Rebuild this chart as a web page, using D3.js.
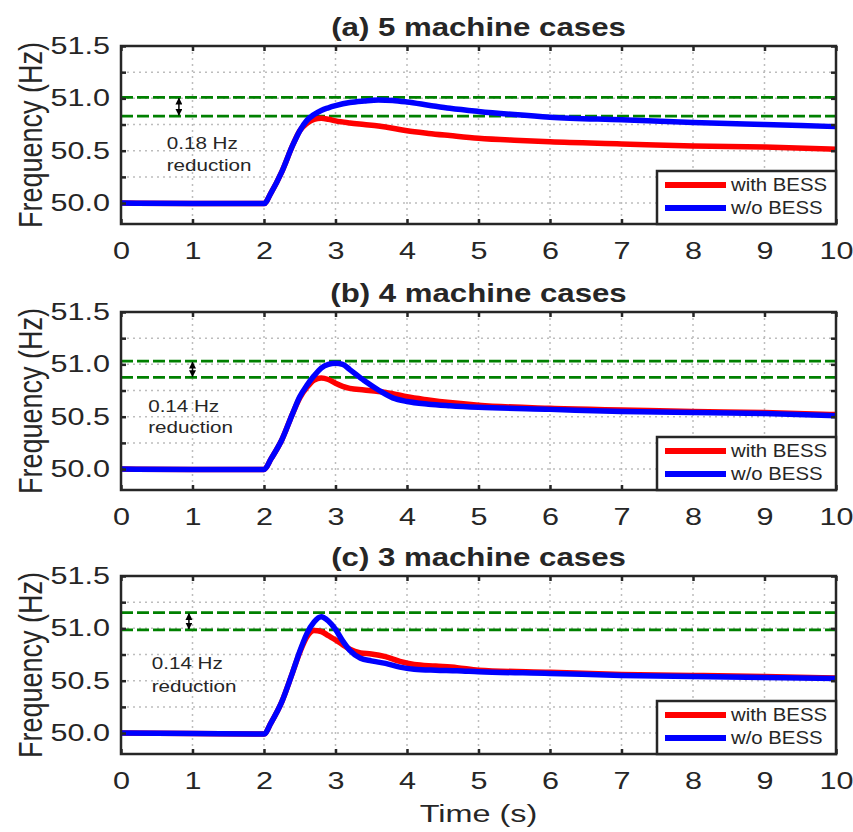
<!DOCTYPE html>
<html>
<head>
<meta charset="utf-8">
<script src="https://cdn.jsdelivr.net/npm/d3@7"></script>
<style>
  body { margin: 0; background: #fff; }
  text { font-family: "Liberation Sans", Arial, sans-serif; fill: #262626; }
</style>
</head>
<body>
<div id="chart"></div>
<script>
var titles = ['(a) 5 machine cases', '(b) 4 machine cases', '(c) 3 machine cases'];
var seriesNames = ['with BESS', 'w/o BESS'];
var xTicks = [0, 1, 2, 3, 4, 5, 6, 7, 8, 9, 10];
var yTicks = [50, 50.25, 50.5, 50.75, 51, 51.25, 51.5];
var yLabelTicks = [50, 50.5, 51, 51.5];

// (a) 5 machines
var timeA = [0, 1, 2, 2.1, 2.25, 2.4, 2.5, 2.6, 2.7, 2.8, 2.9, 3.0, 3.2, 3.4, 3.6, 3.8, 4.0, 4.3, 4.6, 5, 5.5, 6, 7, 8, 9, 10];
var withBessA = [50.0, 49.995, 49.995, 50.1, 50.3, 50.55, 50.69, 50.76, 50.80, 50.81, 50.80, 50.785, 50.765, 50.75, 50.735, 50.715, 50.69, 50.665, 50.645, 50.62, 50.60, 50.585, 50.565, 50.545, 50.535, 50.515];
var withoutBessA = [50.0, 49.995, 49.995, 50.1, 50.3, 50.55, 50.69, 50.79, 50.845, 50.885, 50.91, 50.93, 50.96, 50.975, 50.985, 50.98, 50.965, 50.935, 50.905, 50.875, 50.845, 50.82, 50.795, 50.77, 50.75, 50.73];
var limitsA = [51.01, 50.83];

// (b) 4 machines
var timeB = [0, 1, 2, 2.1, 2.25, 2.4, 2.5, 2.6, 2.7, 2.8, 2.9, 3.0, 3.1, 3.2, 3.4, 3.6, 3.8, 4.0, 4.3, 4.6, 5, 6, 7, 8, 9, 10];
var withBessB = [50.0, 49.995, 49.995, 50.1, 50.28, 50.53, 50.68, 50.78, 50.85, 50.87, 50.855, 50.82, 50.79, 50.77, 50.755, 50.74, 50.72, 50.69, 50.66, 50.635, 50.61, 50.58, 50.565, 50.55, 50.54, 50.52];
var withoutBessB = [50.0, 49.995, 49.995, 50.1, 50.28, 50.53, 50.69, 50.80, 50.89, 50.965, 51.0, 51.01, 51.0, 50.95, 50.845, 50.755, 50.68, 50.645, 50.62, 50.605, 50.59, 50.57, 50.55, 50.54, 50.53, 50.51];
var limitsB = [51.03, 50.875];

// (c) 3 machines
var timeC = [0, 1, 2, 2.1, 2.25, 2.4, 2.5, 2.6, 2.7, 2.8, 2.9, 3.0, 3.1, 3.2, 3.35, 3.5, 3.7, 3.9, 4.1, 4.4, 4.7, 5, 6, 7, 8, 9, 10];
var withBessC = [50.0, 49.995, 49.99, 50.1, 50.3, 50.58, 50.77, 50.92, 50.98, 50.97, 50.93, 50.89, 50.845, 50.80, 50.765, 50.755, 50.73, 50.685, 50.655, 50.64, 50.625, 50.60, 50.58, 50.56, 50.55, 50.54, 50.525];
var withoutBessC = [50.0, 49.995, 49.99, 50.1, 50.3, 50.58, 50.78, 50.95, 51.06, 51.11, 51.07, 50.99, 50.88, 50.79, 50.715, 50.69, 50.665, 50.63, 50.61, 50.60, 50.595, 50.585, 50.57, 50.55, 50.54, 50.53, 50.52];
var limitsC = [51.15, 50.985];

var notes = ['0.18 Hz', '0.14 Hz', '0.14 Hz'];

(function() {
  var width = 853, height = 832;
  var left = 121, right = 836, plotH = 178;
  var tops = [46, 312, 576];
  var colours = ['#ff0000', '#0000ff'];
  var stretch = 1.33;

  var panels = [
    { time: timeA, series: [withBessA, withoutBessA], limits: limitsA, arrowT: 0.81, noteT: 0.64, noteY: [50.57, 50.36] },
    { time: timeB, series: [withBessB, withoutBessB], limits: limitsB, arrowT: 1.0, noteT: 0.38, noteY: [50.60, 50.40] },
    { time: timeC, series: [withBessC, withoutBessC], limits: limitsC, arrowT: 0.95, noteT: 0.43, noteY: [50.67, 50.45] }
  ];

  var svg = d3.select('#chart')
            .append('svg')
            .attr('width', width)
            .attr('height', height)
            .style('background', '#fff');

  var defs = svg.append('defs');
  defs.append('marker')
    .attr('id', 'head')
    .attr('viewBox', '0 0 10 10')
    .attr('refX', 9)
    .attr('refY', 5)
    .attr('markerWidth', 7)
    .attr('markerHeight', 7)
    .attr('markerUnits', 'userSpaceOnUse')
    .attr('orient', 'auto-start-reverse')
    .append('path')
    .attr('d', 'M0,0 L10,5 L0,10 z')
    .attr('fill', '#000');

  var x = d3.scaleLinear().domain([0, 10]).range([left, right]);

  function stretchText(sel, sx) {
    sel.each(function() {
      var t = d3.select(this);
      var tx = +t.attr('x') || 0;
      t.attr('x', tx / sx).attr('transform', 'scale(' + sx + ',1)');
    });
  }

  panels.forEach(function(p, i) {
    var top = tops[i];
    var bottom = top + plotH;
    var y = d3.scaleLinear().domain([49.8, 51.5]).range([bottom, top]);
    var g = svg.append('g');

    // grid
    g.selectAll('line.vgrid')
      .data(xTicks.slice(1, -1))
      .enter().append('line')
      .attr('x1', function(d) { return x(d); })
      .attr('x2', function(d) { return x(d); })
      .attr('y1', top).attr('y2', bottom)
      .attr('stroke', '#bdbdbd')
      .attr('stroke-width', 1.5)
      .attr('stroke-dasharray', '2,4');

    g.selectAll('line.hgrid')
      .data(yTicks.slice(0, -1))
      .enter().append('line')
      .attr('x1', left).attr('x2', right)
      .attr('y1', function(d) { return y(d); })
      .attr('y2', function(d) { return y(d); })
      .attr('stroke', '#bdbdbd')
      .attr('stroke-width', 1.5)
      .attr('stroke-dasharray', '2,4');

    // threshold lines
    g.selectAll('line.limit')
      .data(p.limits)
      .enter().append('line')
      .attr('x1', left).attr('x2', right + 2)
      .attr('y1', function(d) { return y(d); })
      .attr('y2', function(d) { return y(d); })
      .attr('stroke', '#008000')
      .attr('stroke-width', 2.8)
      .attr('stroke-dasharray', '12,4');

    // curves, blue on top
    var line = d3.line()
      .x(function(d) { return x(d[0]); })
      .y(function(d) { return y(d[1]); })
      .curve(d3.curveMonotoneX);

    p.series.forEach(function(vals, k) {
      g.append('path')
        .datum(d3.zip(p.time, vals))
        .attr('d', line)
        .attr('fill', 'none')
        .attr('stroke', colours[k])
        .attr('stroke-width', 5.5)
        .attr('stroke-linejoin', 'round');
    });

    // arrow between thresholds
    g.append('line')
      .attr('x1', x(p.arrowT)).attr('x2', x(p.arrowT))
      .attr('y1', y(p.limits[0]) + 1).attr('y2', y(p.limits[1]) - 1)
      .attr('stroke', '#000')
      .attr('stroke-width', 1.5)
      .attr('marker-start', 'url(#head)')
      .attr('marker-end', 'url(#head)');

    [notes[i], 'reduction'].forEach(function(s, k) {
      g.append('text')
        .attr('x', x(p.noteT))
        .attr('y', y(p.noteY[k]))
        .attr('dy', '0.35em')
        .attr('font-size', 16.5)
        .attr('fill', '#262626')
        .text(s)
        .call(stretchText, 1.25);
    });

    // axes
    var bottomAxis = d3.axisBottom(x).tickValues(xTicks)
      .tickSizeInner(-5).tickSizeOuter(0).tickPadding(19);
    var gx = g.append('g')
      .attr('transform', 'translate(0,' + bottom + ')')
      .call(bottomAxis);
    gx.selectAll('text').attr('font-size', 23).attr('fill', '#262626').call(stretchText, stretch);

    g.append('g')
      .attr('transform', 'translate(0,' + top + ')')
      .call(d3.axisTop(x).tickValues(xTicks).tickFormat('').tickSizeInner(-5).tickSizeOuter(0));

    var leftAxis = d3.axisLeft(y).tickValues(yTicks)
      .tickFormat(function(d) { return yLabelTicks.indexOf(d) >= 0 ? d3.format('.1f')(d) : ''; })
      .tickSizeInner(-5).tickSizeOuter(0).tickPadding(11);
    var gy = g.append('g')
      .attr('transform', 'translate(' + left + ',0)')
      .call(leftAxis);
    gy.selectAll('text').attr('font-size', 23).attr('fill', '#262626').call(stretchText, stretch);

    g.append('g')
      .attr('transform', 'translate(' + right + ',0)')
      .call(d3.axisRight(y).tickValues(yTicks).tickFormat('').tickSizeInner(-5).tickSizeOuter(0));

    g.selectAll('.domain').remove();
    g.selectAll('.tick line').attr('stroke', '#262626').attr('stroke-width', 2.5);

    g.append('rect')
      .attr('x', left).attr('y', top)
      .attr('width', right - left).attr('height', plotH)
      .attr('fill', 'none')
      .attr('stroke', '#262626')
      .attr('stroke-width', 2.5);

    // title
    g.append('text')
      .attr('transform', 'translate(' + (left + right) / 2 + ',' + (top - 10) + ') scale(1.2,1)')
      .attr('text-anchor', 'middle')
      .attr('font-size', 26)
      .attr('font-weight', 'bold')
      .attr('fill', '#000')
      .text(titles[i]);

    g.append('text')
      .attr('transform', 'translate(30,' + (top + plotH / 2) + ') scale(1.25,1) rotate(-90)')
      .attr('text-anchor', 'middle')
      .attr('dy', '0.35em')
      .attr('font-size', 27)
      .text('Frequency (Hz)');

    // legend
    var lg = g.append('g').attr('transform', 'translate(657,' + (bottom - 53) + ')');
    lg.append('rect')
      .attr('width', right - 657).attr('height', 53)
      .attr('fill', '#fff')
      .attr('stroke', '#262626')
      .attr('stroke-width', 2.5);
    seriesNames.forEach(function(name, k) {
      var ly = 14 + k * 23;
      lg.append('line')
        .attr('x1', 8).attr('x2', 69)
        .attr('y1', ly).attr('y2', ly)
        .attr('stroke', colours[k])
        .attr('stroke-width', 6);
      lg.append('text')
        .attr('x', 74).attr('y', ly)
        .attr('dy', '0.35em')
        .attr('font-size', 18.5)
        .attr('fill', '#000')
        .text(name)
        .call(stretchText, 1.1);
    });
  });

  svg.append('text')
    .attr('transform', 'translate(' + (left + right) / 2 + ',822) scale(1.35,1)')
    .attr('text-anchor', 'middle')
    .attr('font-size', 24)
    .text('Time (s)');
}());
</script>
</body>
</html>
